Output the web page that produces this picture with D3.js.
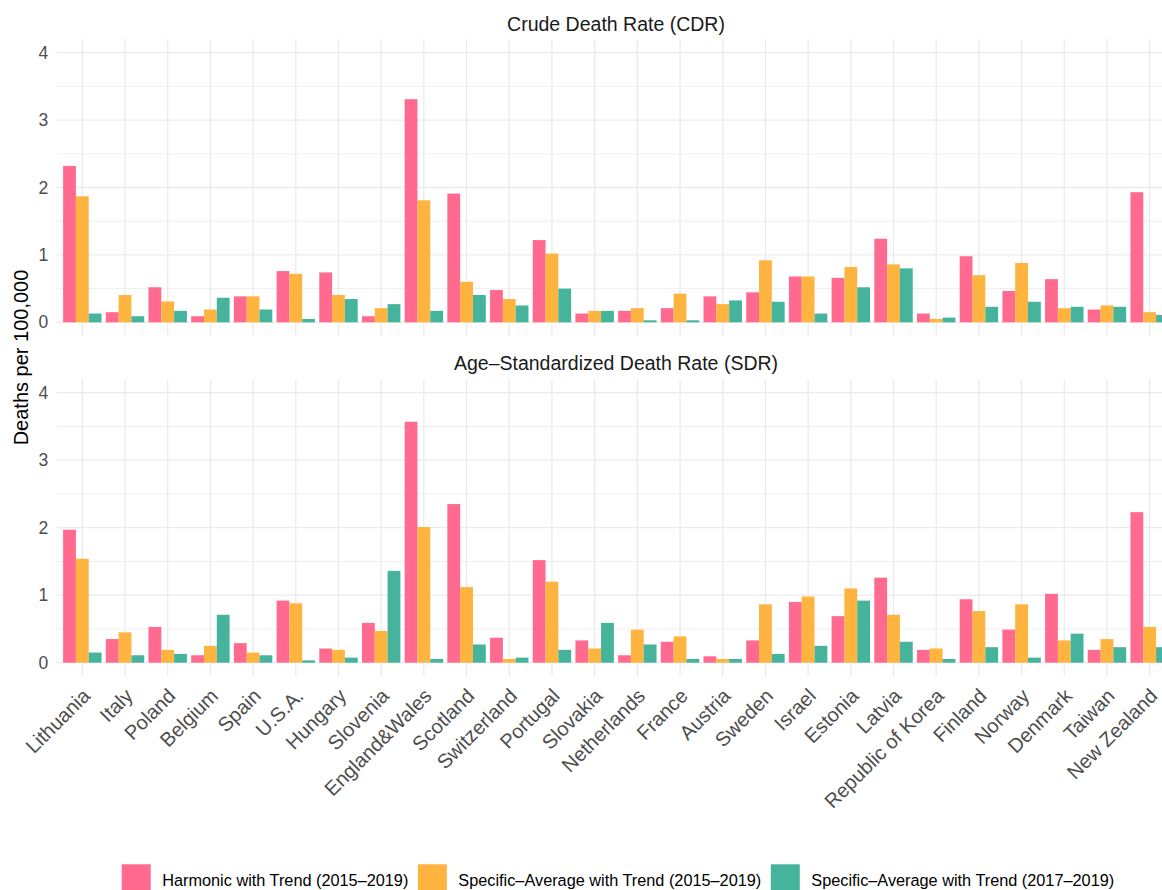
<!DOCTYPE html>
<html>
<head>
<meta charset="utf-8">
<script src="https://cdn.jsdelivr.net/npm/d3@7"></script>
<style>
  html, body { margin: 0; padding: 0; background: #fff; }
  svg { display: block; font-family: "Liberation Sans", Arial, Helvetica, sans-serif; }
</style>
</head>
<body>
<svg id="chart" width="1162" height="890"></svg>
<script>
// ---------------- data ----------------
const categories = ["Lithuania","Italy","Poland","Belgium","Spain","U.S.A.","Hungary","Slovenia",
  "England&Wales","Scotland","Switzerland","Portugal","Slovakia","Netherlands","France","Austria",
  "Sweden","Israel","Estonia","Latvia","Republic of Korea","Finland","Norway","Denmark","Taiwan","New Zealand"];

const seriesNames = ["Harmonic with Trend (2015–2019)",
  "Specific–Average with Trend (2015–2019)",
  "Specific–Average with Trend (2017–2019)"];

const panelTitles = ["Crude Death Rate (CDR)", "Age–Standardized Death Rate (SDR)"];

// Crude Death Rate
const cdrHarmonic1519 = [2.32,0.15,0.52,0.09,0.385,0.76,0.74,0.09,3.31,1.91,0.48,1.22,0.13,0.17,0.21,0.385,0.445,0.68,0.66,1.24,0.13,0.98,0.465,0.64,0.19,1.93];
const cdrSpecAvg1519   = [1.87,0.405,0.31,0.19,0.385,0.72,0.405,0.21,1.81,0.60,0.345,1.02,0.17,0.21,0.425,0.27,0.92,0.68,0.82,0.86,0.05,0.70,0.88,0.21,0.25,0.15];
const cdrSpecAvg1719   = [0.13,0.09,0.17,0.365,0.19,0.05,0.345,0.27,0.17,0.405,0.25,0.50,0.17,0.03,0.03,0.325,0.305,0.13,0.52,0.80,0.07,0.23,0.305,0.23,0.23,0.11];

// Age-Standardized Death Rate
const sdrHarmonic1519 = [1.97,0.35,0.53,0.11,0.29,0.92,0.21,0.59,3.57,2.35,0.37,1.52,0.33,0.11,0.31,0.095,0.33,0.90,0.69,1.26,0.19,0.94,0.49,1.02,0.19,2.23];
const sdrSpecAvg1519   = [1.54,0.45,0.19,0.25,0.15,0.88,0.19,0.47,2.01,1.12,0.055,1.20,0.21,0.49,0.39,0.055,0.865,0.98,1.10,0.71,0.21,0.765,0.865,0.33,0.35,0.53];
const sdrSpecAvg1719   = [0.15,0.11,0.13,0.71,0.11,0.035,0.075,1.36,0.055,0.27,0.075,0.19,0.59,0.27,0.055,0.055,0.13,0.25,0.92,0.31,0.055,0.23,0.075,0.43,0.23,0.23];

const majorTicks = [0,1,2,3,4];
const minorTicks = [0.5,1.5,2.5,3.5];
const yAxisTitle = "Deaths per 100,000";

// ---------------- styling / layout ----------------
const colors = ["#ff6a8e", "#ffb43f", "#46b49c"];
const panels = [
  { title: panelTitles[0], values: [cdrHarmonic1519, cdrSpecAvg1519, cdrSpecAvg1719], top: 39.2, bottom: 335.8, titleY: 30.7 },
  { title: panelTitles[1], values: [sdrHarmonic1519, sdrSpecAvg1519, sdrSpecAvg1719], top: 379.2, bottom: 676.2, titleY: 370 }
];
const panelLeft = 56.7, panelRight = 1175.3;

const svg = d3.select("#chart");

const x = d3.scaleBand().domain(categories).range([panelLeft, panelRight])
  .paddingInner(0.1).paddingOuter(0.15);
const xs = d3.scaleBand().domain(seriesNames).range([0, x.bandwidth()]).padding(0);

panels.forEach(p => {
  const y = d3.scaleLinear().domain([-0.2, 4.2]).range([p.bottom, p.top]);
  const g = svg.append("g");

  // minor grid
  g.selectAll("line.minor").data(minorTicks).join("line")
    .attr("x1", panelLeft).attr("x2", panelRight)
    .attr("y1", d => y(d)).attr("y2", d => y(d))
    .attr("stroke", "#efefef").attr("stroke-width", 1);
  // major grid
  g.selectAll("line.major").data(majorTicks).join("line")
    .attr("x1", panelLeft).attr("x2", panelRight)
    .attr("y1", d => y(d)).attr("y2", d => y(d))
    .attr("stroke", "#ebebeb").attr("stroke-width", 1.3);
  // vertical grid
  g.selectAll("line.vgrid").data(categories).join("line")
    .attr("x1", d => x(d) + x.bandwidth() / 2).attr("x2", d => x(d) + x.bandwidth() / 2)
    .attr("y1", p.top).attr("y2", p.bottom)
    .attr("stroke", "#ebebeb").attr("stroke-width", 1.3);

  // y axis labels
  const yAxis = d3.axisLeft(y).tickValues(majorTicks).tickSize(0).tickPadding(0).tickFormat(d3.format("d"));
  const ya = g.append("g").attr("transform", `translate(${panelLeft - 8.5},0)`).call(yAxis);
  ya.select(".domain").remove();
  ya.selectAll("text").attr("font-size", 17.5).attr("fill", "#4d4d4d")
    .attr("font-family", "Liberation Sans, Arial, sans-serif");

  // bars
  const groups = g.selectAll("g.cat").data(categories).join("g")
    .attr("transform", d => `translate(${x(d)},0)`);
  groups.selectAll("rect").data((c, i) => seriesNames.map((s, k) => ({ s, k, v: p.values[k][i] })))
    .join("rect")
    .attr("x", d => xs(d.s))
    .attr("width", xs.bandwidth())
    .attr("y", d => y(d.v))
    .attr("height", d => y(0) - y(d.v))
    .attr("fill", d => colors[d.k]);

  // strip title
  svg.append("text").attr("x", (panelLeft + panelRight) / 2).attr("y", p.titleY)
    .attr("text-anchor", "middle").attr("font-size", 19.5).attr("fill", "#1a1a1a")
    .text(p.title);
});

// x axis labels (bottom panel)
const bottomPanel = panels[1];
svg.append("g").selectAll("text").data(categories).join("text")
  .attr("transform", d => `translate(${x(d) + x.bandwidth() / 2 + 9},${bottomPanel.bottom + 21}) rotate(-45)`)
  .attr("text-anchor", "end")
  .attr("font-size", 20)
  .attr("fill", "#4d4d4d")
  .text(d => d);

// y axis title
svg.append("text")
  .attr("transform", `translate(28.3,357.5) rotate(-90)`)
  .attr("text-anchor", "middle").attr("font-size", 20).attr("fill", "#000")
  .text(yAxisTitle);

// legend
const legend = svg.append("g");
let lx = 121.7;
seriesNames.forEach((s, k) => {
  legend.append("rect").attr("x", lx).attr("y", 864.3).attr("width", 29).attr("height", 29).attr("fill", colors[k]);
  const t = legend.append("text").attr("x", lx + 40.5).attr("y", 886)
    .attr("font-size", 16.3).attr("fill", "#000").text(s);
  lx = lx + 40.5 + t.node().getComputedTextLength() + 9.5;
});
</script>
</body>
</html>
